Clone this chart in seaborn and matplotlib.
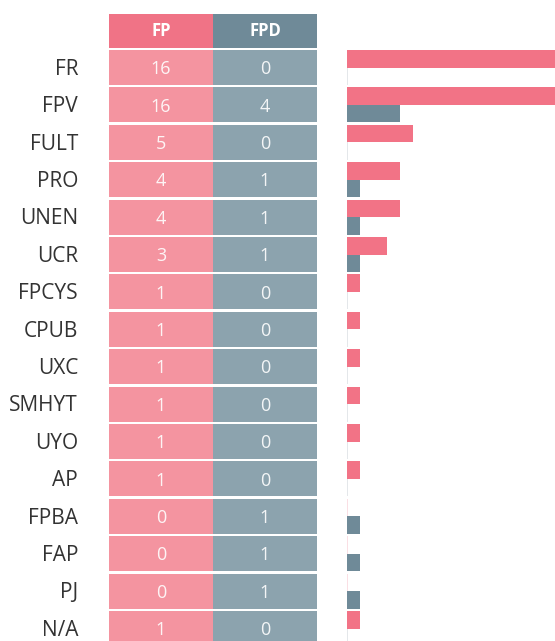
import numpy as np
import pandas as pd
import matplotlib
matplotlib.use("Agg")
import matplotlib.pyplot as plt
import seaborn as sns

# Counts per party
parties = ["FR", "FPV", "FULT", "PRO", "UNEN", "UCR", "FPCYS", "CPUB",
           "UXC", "SMHYT", "UYO", "AP", "FPBA", "FAP", "PJ", "N/A"]
fp_counts = [16, 16, 5, 4, 4, 3, 1, 1, 1, 1, 1, 1, 0, 0, 0, 1]
fpd_counts = [0, 4, 0, 1, 1, 1, 0, 0, 0, 0, 0, 0, 1, 1, 1, 0]
series = ["FP", "FPD"]

# Colours
PINK_HEAD, PINK_CELL, PINK_BAR, PINK_ZERO = "#F07386", "#F494A0", "#F27386", "#F9D9DF"
GRAY_HEAD, GRAY_CELL, GRAY_BAR, GRAY_ZERO = "#6F8A98", "#8CA3AE", "#6F8A98", "#DFE3E6"

sns.set_theme(style="white")
plt.rcParams["font.family"] = ["Open Sans", "DejaVu Sans"]

W, H = 555, 641
fig = plt.figure(figsize=(W / 100, H / 100), dpi=100)

# vertical mapping shared by table and bars: row pitch 37.4 px, first row centre at 67.5 px
pitch, first = 37.4, 67.5
y_top = -first / pitch
y_bot = (H - first) / pitch
row_h = 35 / pitch
text_dy = 1.7 / pitch

# ---- table -------------------------------------------------------------
ax_t = fig.add_axes([109 / W, 0, 208 / W, 1])
rows = np.arange(len(parties))
ax_t.barh(rows, 1, left=0, height=row_h, color=PINK_CELL, linewidth=0)
ax_t.barh(rows, 1, left=1, height=row_h, color=GRAY_CELL, linewidth=0)
head_y = (31 - first) / pitch
ax_t.barh([head_y], 1, left=0, height=34 / pitch, color=PINK_HEAD, linewidth=0)
ax_t.barh([head_y], 1, left=1, height=34 / pitch, color=GRAY_HEAD, linewidth=0)
for j, name in enumerate(series):
    ax_t.text(j + 0.5, head_y, name, ha="center", va="center",
              fontsize=12, fontweight="bold", color="white")
for i, (name, a, b) in enumerate(zip(parties, fp_counts, fpd_counts)):
    ax_t.text(0.5, i + text_dy, str(a), ha="center", va="center", fontsize=13,
              color="white", alpha=0.9)
    ax_t.text(1.5, i + text_dy, str(b), ha="center", va="center", fontsize=13,
              color="white", alpha=0.9)
    ax_t.text(-31 / 104, i + text_dy, name, ha="right", va="center",
              fontsize=15, color="#333333")
ax_t.set_xlim(0, 2)
ax_t.set_ylim(y_bot, y_top)
ax_t.axis("off")

# ---- bars --------------------------------------------------------------
df = pd.DataFrame({
    "party": parties * 2,
    "series": ["FP"] * len(parties) + ["FPD"] * len(parties),
    "count": fp_counts + fpd_counts,
})
ax_b = fig.add_axes([347 / W, 0, 208 / W, 1])
sns.barplot(data=df, y="party", x="count", hue="series", order=parties,
            hue_order=series, palette=[PINK_BAR, GRAY_BAR], orient="h",
            width=0.94, gap=0, dodge=True, legend=False, linewidth=0,
            saturation=1, ax=ax_b)
# zero-count bars shown as a faint hairline
for patch in ax_b.patches:
    if patch.get_width() == 0:
        fc = patch.get_facecolor()
        light = PINK_ZERO if fc[0] > 0.8 else GRAY_ZERO
        patch.set_edgecolor(light)
        patch.set_linewidth(1.2)
ax_b.set_xlim(0, 208 / 13.2)
ax_b.set_ylim(y_bot, y_top)
ax_b.axis("off")

fig.savefig("out.png", dpi=100)
